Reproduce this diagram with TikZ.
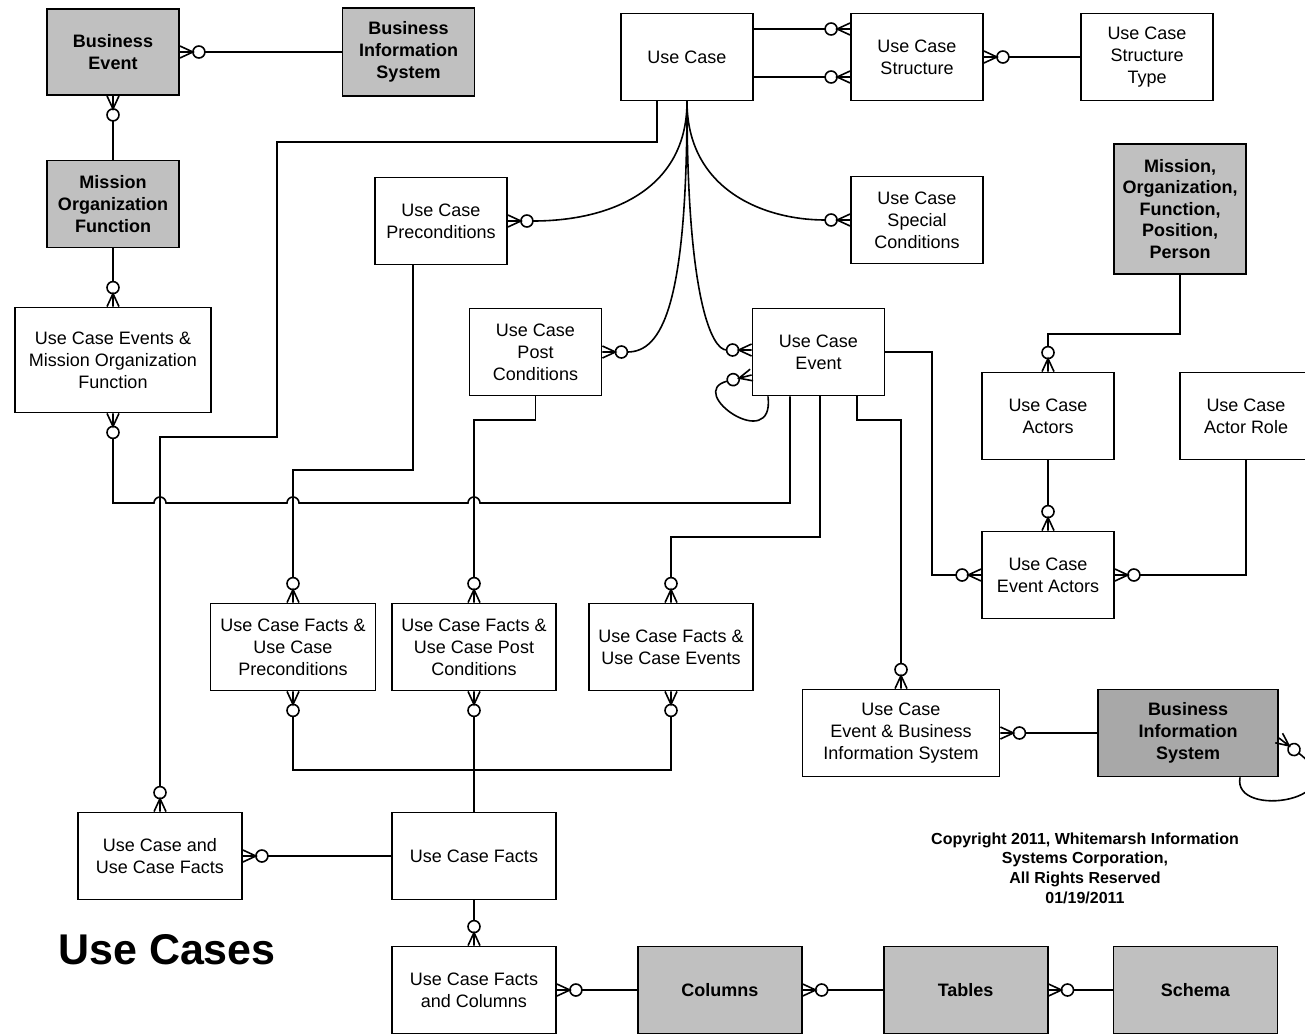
\documentclass[tikz,border=0pt]{standalone}
\usepackage{fontspec}
\setmainfont{Liberation Sans}
\usepackage{xcolor}
\usepackage{tikz}
\usetikzlibrary{positioning, arrows.meta}
\definecolor{boxgray}{HTML}{C0C0C0}
\definecolor{darkgray}{HTML}{A8A8A8}

% zero-or-many end: open circle plus crow's foot
\pgfdeclarearrow{
  name = ZeroMany,
  setup code = {
    \pgfarrowssettipend{0pt}
    \pgfarrowssetlineend{-25pt}
    \pgfarrowssetbackend{-25pt}
  },
  drawing code = {
    \pgfsetdash{}{0pt}
    \pgfpathmoveto{\pgfpoint{0pt}{6pt}}
    \pgfpathlineto{\pgfpoint{-13pt}{0pt}}
    \pgfpathlineto{\pgfpoint{0pt}{-6pt}}
    \pgfpathmoveto{\pgfpoint{-13pt}{0pt}}
    \pgfpathlineto{\pgfpoint{0pt}{0pt}}
    \pgfusepathqstroke
    \pgfpathcircle{\pgfpoint{-19pt}{0pt}}{6pt}
    \pgfusepathqstroke
  }
}

\begin{document}
\begin{tikzpicture}[
        x=1pt, y=1pt,
        every node/.style={align=center, inner sep=2pt},
        entity/.style={rectangle, draw, line width=1.8pt, minimum width=132pt, minimum height=87pt,
            font=\fontsize{18}{22}\selectfont},
        wide/.style={entity, minimum width=164pt},
        known/.style={entity, fill=boxgray, font=\fontsize{18}{22}\selectfont\bfseries},
        link/.style={-ZeroMany, line width=1.6pt}
    ]
    \useasboundingbox (0,0) rectangle (1305,-1034);

    % Top row
    \node[known, minimum height=86pt] (bevent) at (113,-52) {Business\\Event};
    \node[known, minimum height=88pt] (bisys) at (408.5,-52) {Business\\Information\\System};
    \node[entity] (ucase) at (687,-57) {Use Case};
    \node[entity] (ucstruct) at (917,-57) {Use Case\\Structure};
    \node[entity] (ucstype) at (1147,-57) {Use Case\\Structure\\Type};

    % Second band
    \node[known] (mof) at (113,-204) {Mission\\Organization\\Function};
    \node[entity] (ucpre) at (441,-221) {Use Case\\Preconditions};
    \node[entity] (ucspec) at (917,-220) {Use Case\\Special\\Conditions};
    \node[known, minimum height=130pt, font=\fontsize{18}{21.5}\selectfont\bfseries] (moperson) at (1180,-209)
        {Mission,\\Organization,\\Function,\\Position,\\Person};
    \node[entity, minimum width=196pt, minimum height=105pt] (ucemof) at (113,-360)
        {Use Case Events \&\\Mission Organization\\Function};
    \node[entity] (ucpost) at (535.5,-352) {Use Case\\Post\\Conditions};
    \node[entity] (ucevent) at (818.5,-352) {Use Case\\Event};
    \node[entity] (ucactors) at (1048,-416) {Use Case\\Actors};
    \node[entity] (ucrole) at (1246,-416) {Use Case\\Actor Role};

    % Facts band
    \node[wide, minimum width=165pt] (factpre) at (293,-647) {Use Case Facts \&\\Use Case\\Preconditions};
    \node[wide] (factpost) at (474,-647) {Use Case Facts \&\\Use Case Post\\Conditions};
    \node[wide] (factevent) at (671,-647) {Use Case Facts \&\\Use Case Events};
    \node[entity] (evactors) at (1048,-575) {Use Case\\Event Actors};
    \node[entity, minimum width=197pt] (evbis) at (901,-733) {Use Case\\Event \& Business\\Information System};
    \node[known, fill=darkgray, minimum width=180pt] (bisys2) at (1188,-733) {Business\\Information\\System};
    \node[wide] (ucandfacts) at (160,-856) {Use Case and\\Use Case Facts};
    \node[wide] (ucfacts) at (474,-856) {Use Case Facts};

    % Bottom row
    \node[wide] (factcols) at (474,-990) {Use Case Facts\\and Columns};
    \node[known, minimum width=164pt, right=80pt of factcols] (columns) {Columns};
    \node[known, minimum width=164pt, right=80pt of columns] (tables) {Tables};
    \node[known, minimum width=164pt, right=64pt of tables] (schema) {Schema};

    \node[font=\fontsize{43}{50}\selectfont\bfseries] (title) at (167,-950) {Use Cases};
    \node[font=\fontsize{16}{19.7}\selectfont\bfseries] (copyright) at (1085,-868)
        {Copyright 2011, Whitemarsh Information\\Systems Corporation,\\All Rights Reserved\\01/19/2011};

    % Relationships
    \draw[link] (bisys) -- (bevent);
    \draw[link] (mof) -- (bevent);
    \draw[link] (mof) -- (ucemof);
    \draw[link] (ucevent.south -| 790,0) -- (790,-503) -- (480,-503)
        arc[start angle=0, end angle=180, radius=6] -- (299,-503)
        arc[start angle=0, end angle=180, radius=6] -- (166,-503)
        arc[start angle=0, end angle=180, radius=6] -- (113,-503) -- (ucemof.south);
    \draw[link] (ucase.south -| 657,0) |- (277,-142) |- (160,-437) -- (ucandfacts.north);
    \draw[link] (ucase.east |- 0,-29) -- (ucstruct.west |- 0,-29);
    \draw[link] (ucase.east |- 0,-77) -- (ucstruct.west |- 0,-77);
    \draw[link] (ucstype) -- (ucstruct);

    % Curves from Use Case
    \draw[link] (ucase.south) .. controls (687,-190) and (610,-221) .. (ucpre.east);
    \draw[link] (ucase.south) .. controls (687,-190) and (764,-220) .. (ucspec.west);
    \draw[link] (ucase.south) .. controls (687,-305) and (662,-352) .. (ucpost.east);
    \draw[link] (ucase.south) .. controls (687,-300) and (712,-350) .. (ucevent.west |- 0,-350);
    \draw[link] (ucevent.south -| 768,0) .. controls (775,-455) and (684,-392) .. (ucevent.west |- 0,-375);

    \draw[link] (ucpre.south -| 413,0) |- (293,-470) -- (factpre.north);
    \draw[link] (ucpost.south) |- (474,-420) -- (factpost.north);
    \draw[link] (ucevent.south -| 820,0) |- (671,-537) -- (factevent.north);
    \draw[link] (ucevent.south -| 857,0) |- (901,-420) -- (evbis.north);
    \draw[link] (ucevent.east) -| (932,-575) -- (evactors.west);
    \draw[link] (moperson.south) |- (1048,-334) -- (ucactors.north);
    \draw[link] (ucactors) -- (evactors);
    \draw[link] (ucrole.south) |- (evactors.east);
    \draw[link] (bisys2) -- (evbis);
    \draw[link] (bisys2.south -| 1240,0) .. controls (1232,-820) and (1360,-800) .. (bisys2.east |- 0,-738);

    \draw[link] (ucfacts.north) |- (293,-770) -- (factpre.south);
    \draw[link] (ucfacts) -- (factpost);
    \draw[link] (ucfacts.north) |- (671,-770) -- (factevent.south);
    \draw[link] (ucfacts) -- (ucandfacts);
    \draw[link] (ucfacts) -- (factcols);
    \draw[link] (columns) -- (factcols);
    \draw[link] (tables) -- (columns);
    \draw[link] (schema) -- (tables);

\end{tikzpicture}
\end{document}
